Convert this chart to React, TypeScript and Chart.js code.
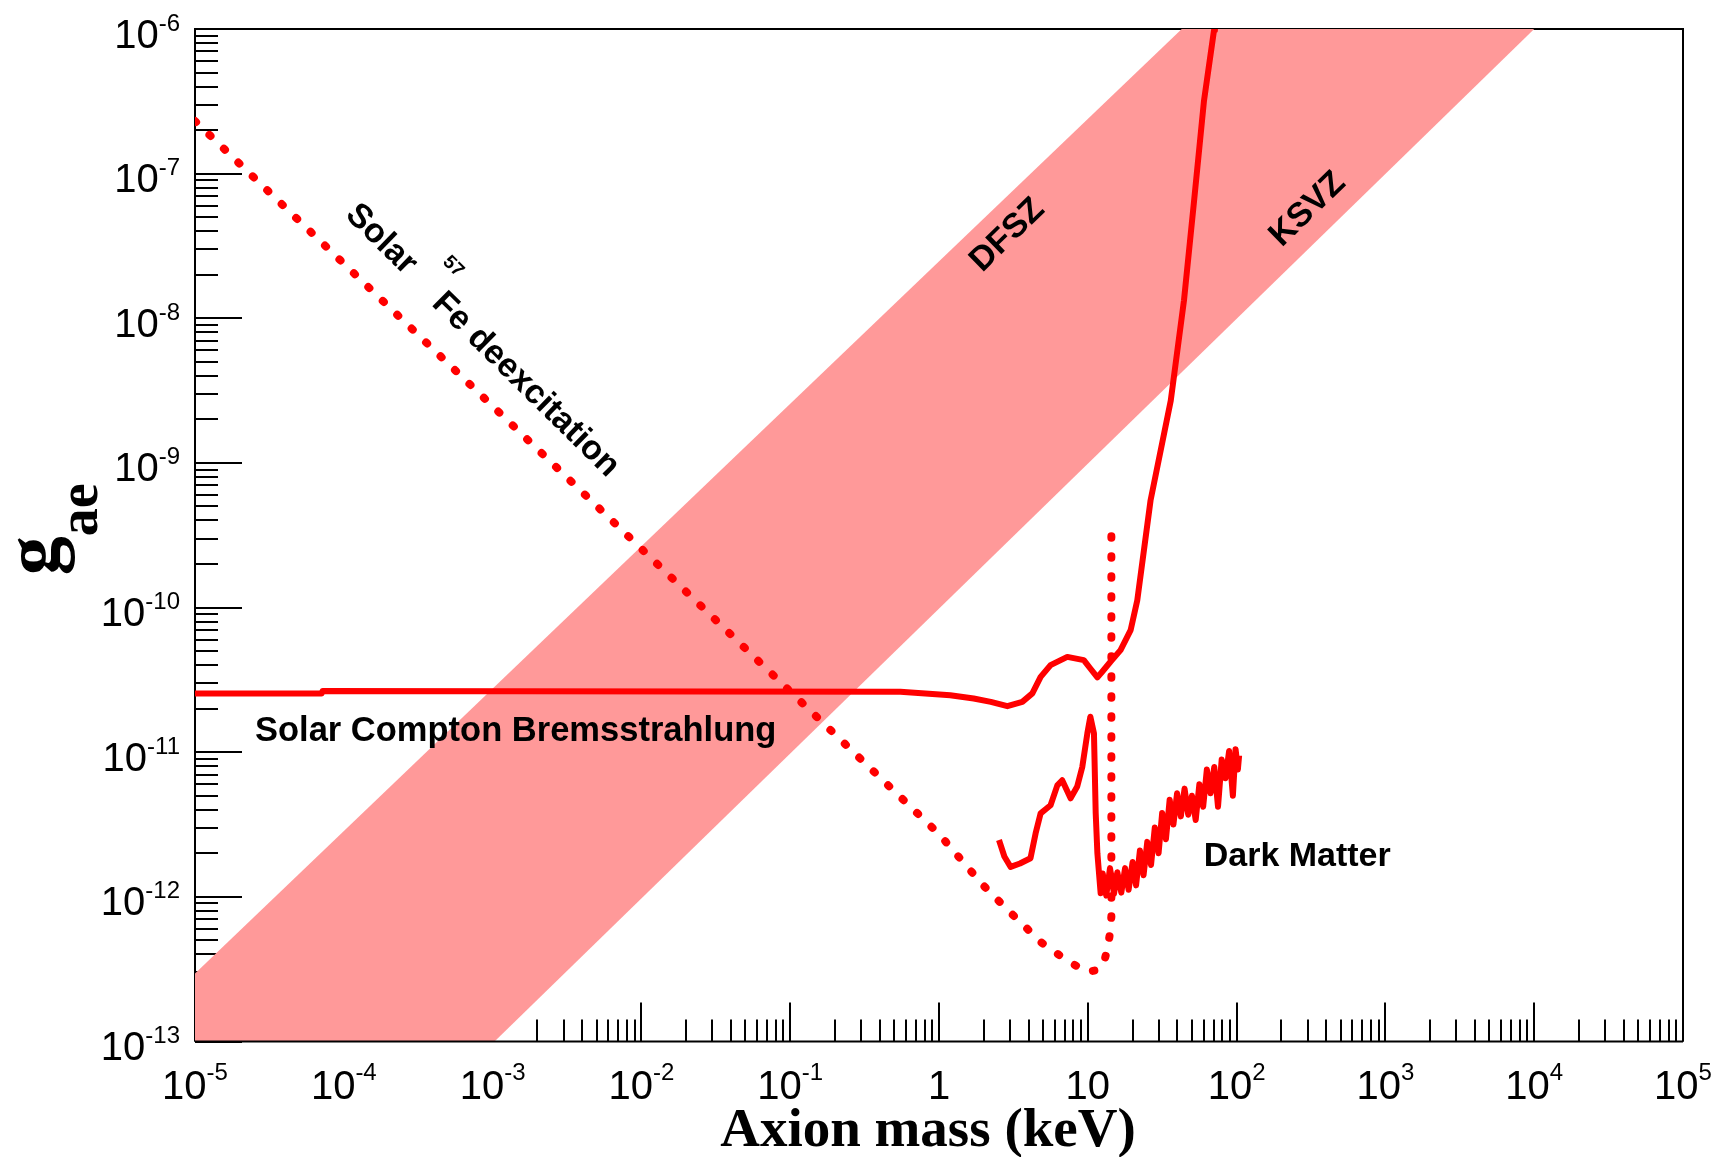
import { useEffect, useRef } from 'react';
import { Chart, registerables } from 'chart.js';

Chart.register(...registerables);

// ---- Curves: axion mass (keV) vs coupling g_ae ----

// Solar 57Fe deexcitation (14.4 keV line), dotted
const FE_MASS = [1e-5, 1e-3, 0.1, 1, 2.0, 3.03, 4.94, 7.46, 9.93, 11.6, 12.8, 13.5, 14.1, 14.4, 14.4];
const FE_COUPLING = [2.31e-7, 2.47e-9, 2.63e-11, 2.72e-12, 1.19e-12, 7.76e-13, 4.78e-13, 3.56e-13, 3.03e-13, 3.12e-13, 3.48e-13, 4.3e-13, 5.6e-13, 7.3e-13, 3.7e-10];

// Solar Compton / Bremsstrahlung limit, solid
const COMPTON_MASS = [1e-5, 7.1e-5, 7.2e-5, 0.55, 1.19, 1.71, 2.23, 2.88, 3.63, 4.24, 4.82, 5.62, 7.28, 9.4, 10.4, 11.6, 12.5, 14.2, 16.6, 19.4, 21.5, 26.4, 36.1, 44.3, 51.8, 60.4, 70.5, 71.5];
const COMPTON_COUPLING = [2.55e-11, 2.55e-11, 2.65e-11, 2.62e-11, 2.48e-11, 2.35e-11, 2.23e-11, 2.08e-11, 2.23e-11, 2.55e-11, 3.32e-11, 4.0e-11, 4.56e-11, 4.33e-11, 3.79e-11, 3.29e-11, 3.6e-11, 4.22e-11, 5.08e-11, 6.98e-11, 1.12e-10, 5.5e-10, 2.7e-9, 1.33e-8, 6.5e-8, 3.2e-7, 9.8e-7, 1.0e-6];

// Dark matter (axio-electric absorption) limit, solid
const DM_MASS = [2.53, 2.75, 3.03, 3.5, 4.12, 4.46, 4.82, 5.62, 6.24, 6.73, 7.66, 8.49, 9.18, 9.93, 10.4, 11.0, 11.3, 11.6, 12.2, 12.6, 13.3, 14.1, 15.0, 15.8, 16.8, 17.8, 18.8, 20.0, 21.1, 22.4, 23.7, 25.1, 26.6, 28.2, 29.9, 31.6, 33.5, 35.5, 37.6, 39.8, 42.2, 44.7, 47.3, 50.1, 53.1, 56.2, 59.6, 63.1, 66.8, 70.8, 75.0, 79.4, 84.1, 89.1, 94.4, 98.4, 102, 104];
const DM_COUPLING = [2.47e-12, 1.9e-12, 1.61e-12, 1.7e-12, 1.85e-12, 2.75e-12, 3.78e-12, 4.3e-12, 5.9e-12, 6.4e-12, 4.8e-12, 5.8e-12, 7.9e-12, 1.35e-11, 1.76e-11, 1.35e-11, 3.8e-12, 2.0e-12, 1.06e-12, 1.45e-12, 1.02e-12, 1.58e-12, 1.05e-12, 1.48e-12, 1.07e-12, 1.58e-12, 1.12e-12, 1.74e-12, 1.2e-12, 2.09e-12, 1.41e-12, 2.4e-12, 1.66e-12, 3.02e-12, 2.0e-12, 3.8e-12, 2.5e-12, 4.7e-12, 3.16e-12, 5.2e-12, 3.6e-12, 5.6e-12, 3.7e-12, 5.0e-12, 3.4e-12, 6.0e-12, 4.2e-12, 7.6e-12, 5.2e-12, 7.9e-12, 4.2e-12, 8.9e-12, 6.6e-12, 1.02e-11, 5.0e-12, 1.05e-11, 7.6e-12, 9.5e-12];

// DFSZ–KSVZ model band (polygon corners on the frame)
const BAND_MASS = [1e-5, 1e-5, 42.8, 1.0e4, 1.03e-3];
const BAND_COUPLING = [1e-13, 2.95e-13, 1e-6, 1e-6, 1e-13];

// ---- Axes ----
const X_MIN = 1e-5;
const X_MAX = 1e5;
const Y_MIN = 1e-13;
const Y_MAX = 1e-6;
const X_DECADES = [1e-5, 1e-4, 1e-3, 1e-2, 1e-1, 1, 10, 1e2, 1e3, 1e4, 1e5];
const X_TICK_LABELS = [['10', '-5'], ['10', '-4'], ['10', '-3'], ['10', '-2'], ['10', '-1'], ['1', ''], ['10', ''], ['10', '2'], ['10', '3'], ['10', '4'], ['10', '5']];
const Y_DECADES = [1e-13, 1e-12, 1e-11, 1e-10, 1e-9, 1e-8, 1e-7, 1e-6];
const Y_TICK_LABELS = [['10', '-13'], ['10', '-12'], ['10', '-11'], ['10', '-10'], ['10', '-9'], ['10', '-8'], ['10', '-7'], ['10', '-6']];
const MINOR_STEPS = [2, 3, 4, 5, 6, 7, 8, 9];

const X_TITLE = 'Axion mass (keV)';
const Y_TITLE_MAIN = 'g';
const Y_TITLE_SUB = 'ae';

// Text placed on the plot, anchored in data coordinates
const TEXT_LABELS = [
  { text: 'Solar Compton Bremsstrahlung', m: 2.53e-5, g: 1.2e-11, angle: 0, size: 34.5, anchor: 'start' },
  { text: 'Dark Matter', m: 60.1, g: 1.63e-12, angle: 0, size: 34, anchor: 'start' },
  { text: 'DFSZ', m: 2.8, g: 3.87e-8, angle: -44.2, size: 34, anchor: 'center' },
  { text: 'KSVZ', m: 292, g: 5.85e-8, angle: -44.2, size: 34, anchor: 'center' },
  { text: 'Solar', m: 1.84e-4, g: 3.63e-8, angle: 44.5, size: 34, anchor: 'center' },
  { text: '57', m: 5.52e-4, g: 2.32e-8, angle: 44.5, size: 19, anchor: 'center' },
  { text: 'Fe deexcitation', m: 1.72e-3, g: 3.58e-9, angle: 44.5, size: 34, anchor: 'center' },
];

const W = 1716;
const H = 1157;
const RED = '#ff0000';
const BAND = '#ff9999';
const SANS = '"Liberation Sans", Arial, Helvetica, sans-serif';
const SERIF = '"Liberation Serif", "Times New Roman", Times, serif';

const toPoints = (xs: number[], ys: number[]) => xs.map((x, i) => ({ x, y: ys[i] }));

function drawPower(ctx: CanvasRenderingContext2D, base: string, exp: string, x: number, baseline: number, align: 'center' | 'right', raise: number) {
  const baseFont = `40px ${SANS}`;
  const expFont = `24px ${SANS}`;
  ctx.font = baseFont;
  const bw = ctx.measureText(base).width;
  ctx.font = expFont;
  const ew = exp ? ctx.measureText(exp).width : 0;
  const total = bw + ew;
  const left = align === 'center' ? x - total / 2 : x - total;
  ctx.textAlign = 'left';
  ctx.textBaseline = 'alphabetic';
  ctx.font = baseFont;
  ctx.fillText(base, left, baseline);
  if (exp) {
    ctx.font = expFont;
    ctx.fillText(exp, left + bw, baseline - raise);
  }
}

// ROOT-like frame: inward ticks, power-of-ten labels, titles and in-plot text
const rootFramePlugin = {
  id: 'rootFrame',
  beforeDatasetsDraw(chart: any) {
    const { ctx, chartArea: a, scales } = chart;
    const xs = scales.x;
    const ys = scales.y;
    ctx.save();
    ctx.strokeStyle = '#000';
    ctx.lineWidth = 2;
    ctx.beginPath();
    ctx.moveTo(a.left, a.bottom);
    ctx.lineTo(a.left, a.top);
    ctx.lineTo(a.right, a.top);
    ctx.lineTo(a.right, a.bottom);
    ctx.stroke();

    ctx.beginPath();
    Y_DECADES.forEach((v, i) => {
      const p = Math.round(ys.getPixelForValue(v));
      ctx.moveTo(a.left, p);
      ctx.lineTo(a.left + 47, p);
      if (i < Y_DECADES.length - 1) {
        MINOR_STEPS.forEach((k) => {
          const q = Math.round(ys.getPixelForValue(k * v));
          ctx.moveTo(a.left, q);
          ctx.lineTo(a.left + 23, q);
        });
      }
    });
    X_DECADES.forEach((v, i) => {
      const p = Math.round(xs.getPixelForValue(v));
      ctx.moveTo(p, a.bottom);
      ctx.lineTo(p, a.bottom - 39);
      if (i < X_DECADES.length - 1) {
        MINOR_STEPS.forEach((k) => {
          const q = Math.round(xs.getPixelForValue(k * v));
          ctx.moveTo(q, a.bottom);
          ctx.lineTo(q, a.bottom - 22);
        });
      }
    });
    ctx.stroke();
    ctx.restore();
  },
  afterDatasetsDraw(chart: any) {
    const { ctx, chartArea: a, scales } = chart;
    const xs = scales.x;
    const ys = scales.y;
    ctx.save();
    // bottom axis line sits on top of the band
    ctx.strokeStyle = '#000';
    ctx.lineWidth = 2;
    ctx.beginPath();
    ctx.moveTo(a.left, a.bottom);
    ctx.lineTo(a.right, a.bottom);
    ctx.stroke();

    ctx.fillStyle = '#000';
    // tick labels
    X_DECADES.forEach((v, i) => {
      const [b, e] = X_TICK_LABELS[i];
      drawPower(ctx, b, e, xs.getPixelForValue(v), a.bottom + 57, 'center', 19);
    });
    Y_DECADES.forEach((v, i) => {
      const [b, e] = Y_TICK_LABELS[i];
      drawPower(ctx, b, e, a.left - 15, ys.getPixelForValue(v) + 18.5, 'right', 17);
    });

    // axis titles
    ctx.font = `bold 55px ${SERIF}`;
    ctx.textAlign = 'center';
    ctx.textBaseline = 'alphabetic';
    ctx.fillText(X_TITLE, a.left + (a.right - a.left) * 0.4926, a.bottom + 104.5);

    ctx.save();
    ctx.translate(58, (a.top + a.bottom) / 2 + 40);
    ctx.rotate(-Math.PI / 2);
    ctx.textAlign = 'left';
    ctx.font = `bold 78px ${SERIF}`;
    ctx.fillText(Y_TITLE_MAIN, 0, 0);
    const gw = ctx.measureText(Y_TITLE_MAIN).width;
    ctx.font = `bold 56px ${SERIF}`;
    ctx.fillText(Y_TITLE_SUB, gw, 39);
    ctx.restore();

    // in-plot labels
    TEXT_LABELS.forEach((l) => {
      const px = xs.getPixelForValue(l.m);
      const py = ys.getPixelForValue(l.g);
      ctx.save();
      ctx.translate(px, py);
      ctx.rotate((l.angle * Math.PI) / 180);
      ctx.font = `bold ${l.size}px ${SANS}`;
      ctx.textBaseline = 'alphabetic';
      if (l.anchor === 'start') {
        ctx.textAlign = 'left';
        ctx.fillText(l.text, 0, 0);
      } else {
        ctx.textAlign = 'center';
        ctx.fillText(l.text, 0, 0.358 * l.size);
      }
      ctx.restore();
    });
    ctx.restore();
  },
};

export default function App() {
  const canvasRef = useRef<HTMLCanvasElement | null>(null);

  useEffect(() => {
    const canvas = canvasRef.current;
    if (!canvas) return;
    const chart = new Chart(canvas, {
      type: 'scatter',
      data: {
        datasets: [
          {
            label: 'Dark Matter',
            data: toPoints(DM_MASS, DM_COUPLING),
            showLine: true,
            borderColor: RED,
            borderWidth: 6,
            borderJoinStyle: 'round',
            pointRadius: 0,
            fill: false,
            order: 0,
          },
          {
            label: 'Solar Compton Bremsstrahlung',
            data: toPoints(COMPTON_MASS, COMPTON_COUPLING),
            showLine: true,
            borderColor: RED,
            borderWidth: 6,
            borderJoinStyle: 'round',
            pointRadius: 0,
            fill: false,
            order: 0,
          },
          {
            label: 'Solar 57Fe deexcitation',
            data: toPoints(FE_MASS, FE_COUPLING),
            showLine: true,
            borderColor: RED,
            borderWidth: 8,
            borderDash: [1.5, 18.5],
            borderCapStyle: 'round',
            pointRadius: 0,
            fill: false,
            order: 1,
          },
          {
            label: 'DFSZ / KSVZ',
            data: toPoints(BAND_MASS, BAND_COUPLING),
            showLine: true,
            borderColor: 'rgba(0,0,0,0)',
            borderWidth: 1,
            backgroundColor: BAND,
            pointRadius: 0,
            fill: 'shape',
            order: 5,
          },
        ],
      },
      options: {
        responsive: false,
        animation: false,
        events: [],
        layout: { padding: { left: 195, right: 33, top: 29, bottom: 115.5 } },
        plugins: {
          legend: { display: false },
          tooltip: { enabled: false },
          title: { display: false },
        },
        elements: { line: { tension: 0 }, point: { radius: 0 } },
        scales: {
          x: { type: 'logarithmic', min: X_MIN, max: X_MAX, display: false },
          y: { type: 'logarithmic', min: Y_MIN, max: Y_MAX, display: false },
        },
      } as any,
      plugins: [rootFramePlugin],
    });
    return () => chart.destroy();
  }, []);

  return (
    <div style={{ position: 'absolute', left: 0, top: 0, width: W, height: H, background: '#fff' }}>
      <canvas ref={canvasRef} width={W} height={H} style={{ width: W, height: H, display: 'block' }} />
    </div>
  );
}
